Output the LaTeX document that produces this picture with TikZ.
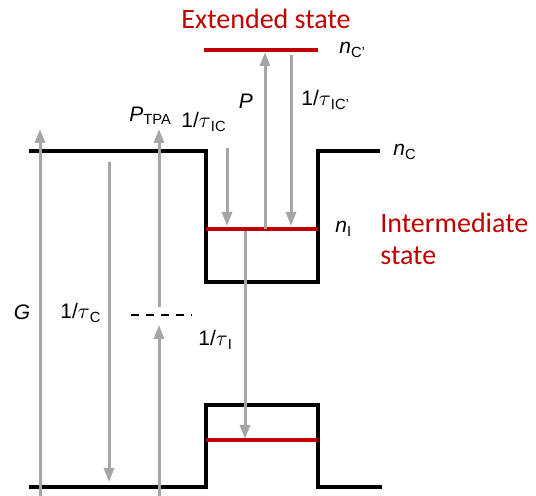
\documentclass[tikz,border=0pt]{standalone}
\usepackage{fontspec}
\setmainfont{Liberation Sans}
\newfontfamily\statefont{Carlito}
\usepackage{tikz}
\usetikzlibrary{arrows.meta,positioning}
\usepackage{xcolor}
\definecolor{lvr}{RGB}{192,0,0}
\definecolor{trg}{RGB}{166,166,166}
\newcommand{\sym}[2]{\textit{#1}\textsubscript{#2}}
\newcommand{\rate}[1]{1/$\tau$\textsubscript{#1}}
\tikzset{
  band/.style={line width=2pt,color=black,line join=miter},
  lvl/.style={line width=2.2pt,color=lvr},
  trans/.style={-{Triangle[length=7pt,width=5pt]},line width=1.5pt,color=trg},
  vdash/.style={line width=1.3pt,dash pattern=on 4pt off 3.5pt},
  lab/.style={inner sep=0pt,font=\fontsize{10.5}{12}\selectfont},
  stxt/.style={inner sep=0pt,text=lvr,align=left,font=\statefont\fontsize{14}{16}\selectfont},
}

\begin{document}
\begin{tikzpicture}[x=0.5pt,y=-0.5pt]
    \useasboundingbox (0,0) rectangle (536,496);
    \draw[band] (29,151) -- (206,151) -- (206,282) -- (318,282) -- (318,151) -- (380,151);
    \draw[band] (29,487) -- (206,487) -- (206,405) -- (318,405) -- (318,487) -- (382,487);
    \draw[lvl] (204,50) -- (318,50);
    \draw[lvl] (206,229) -- (318,229);
    \draw[lvl] (206,440) -- (318,440);
    \coordinate (g0) at (40,498);   \coordinate (g1) at (40,129);
    \coordinate (c0) at (109,162);  \coordinate (c1) at (109,482);
    \coordinate (t0) at (159,307);  \coordinate (t1) at (159,129);
    \coordinate (t2) at (159,498);  \coordinate (t3) at (159,325);
    \coordinate (ic0) at (227,148); \coordinate (ic1) at (227,226);
    \coordinate (p0) at (265,229);  \coordinate (p1) at (265,52);
    \coordinate (ix0) at (291,55);  \coordinate (ix1) at (291,226);
    \coordinate (i0) at (245,231);  \coordinate (i1) at (245,439);
    \coordinate (d0) at (131,315);  \coordinate (d1) at (192,315);
    \draw[trans] (g0) -- (g1);
    \draw[trans] (c0) -- (c1);
    \draw[trans] (t0) -- (t1);
    \draw[trans] (t2) -- (t3);
    \draw[trans] (ic0) -- (ic1);
    \draw[trans] (p0) -- (p1);
    \draw[trans] (ix0) -- (ix1);
    \draw[trans] (i0) -- (i1);
    \draw[vdash] (d0) -- (d1);
    \node[stxt] (ext) at (266,19) {Extended state};
    \node[stxt,anchor=west] (inter) at (380,239) {Intermediate\\state};
    \node[lab,anchor=west] (ncp) at (339,50) {\sym{n}{C'}};
    \node[lab,anchor=west] (nc) at (393,152) {\sym{n}{C}};
    \node[lab,anchor=west] (ni) at (335,229) {\sym{n}{I}};
    \node[lab] (pl) at (246,101) {\textit{P}};
    \node[lab,anchor=west] (ricp) at (301,100) {\rate{IC'}};
    \node[lab,anchor=west] (ric) at (181,122) {\rate{IC}};
    \node[lab,anchor=west] (ptpa) at (129,116) {\sym{P}{TPA}};
    \node[lab] (gl) at (22,312) {\textit{G}};
    \node[lab,anchor=west] (rc) at (60,313) {\rate{C}};
    \node[lab,anchor=west] (ri) at (198,340) {\rate{I}};
  \end{tikzpicture}
\end{document}
